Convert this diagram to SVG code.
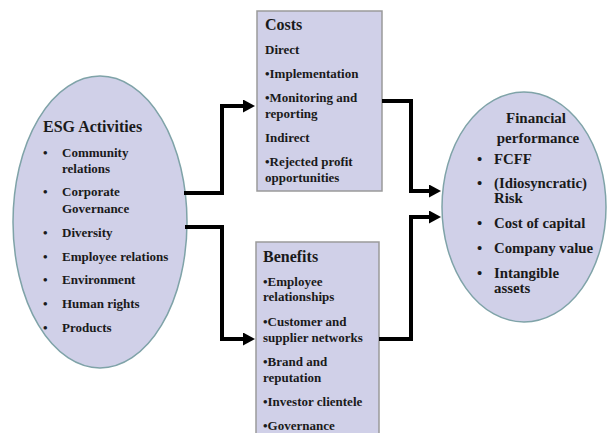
<svg xmlns="http://www.w3.org/2000/svg" width="610" height="433" viewBox="0 0 610 433">
<defs>
<marker id="arr" viewBox="0 0 12 13" refX="0" refY="6.5" markerWidth="12" markerHeight="13" markerUnits="userSpaceOnUse" orient="auto">
<path d="M0,0 L12,6.5 L0,13 Z" fill="#000"/>
</marker>
</defs>
<style>
.ell{fill:#d0d0e8;stroke:#7fa3a8;stroke-width:1.5}
.box{fill:#d0d0e8;stroke:#9a9a9a;stroke-width:1.5}
text{font-family:"Liberation Serif","Times New Roman",serif;font-weight:bold;fill:#1a1a1a}
.t16{font-size:16px}
.t15{font-size:14.8px}
.t13{font-size:13px}
.t14{font-size:15px}
.con{fill:none;stroke:#000;stroke-width:4;marker-end:url(#arr)}
</style>
<rect width="610" height="433" fill="#fff"/>
<g id="esg">
<ellipse class="ell" cx="100" cy="222" rx="87" ry="146"/>
<text class="t16" x="43" y="132">ESG Activities</text>
<g class="t13">
<text x="43" y="157">•</text><text x="62" y="157">Community</text>
<text x="62" y="173">relations</text>
<text x="43" y="196">•</text><text x="62" y="196">Corporate</text>
<text x="62" y="212.5">Governance</text>
<text x="43" y="236.5">•</text><text x="62" y="236.5">Diversity</text>
<text x="43" y="260.5">•</text><text x="62" y="260.5">Employee relations</text>
<text x="43" y="284">•</text><text x="62" y="284">Environment</text>
<text x="43" y="308">•</text><text x="62" y="308">Human rights</text>
<text x="43" y="331.5">•</text><text x="62" y="331.5">Products</text>
</g>
</g>
<g id="costs">
<rect class="box" x="257" y="11" width="125" height="180"/>
<text class="t16" x="265" y="30">Costs</text>
<g class="t13">
<text x="265" y="54">Direct</text>
<text x="265" y="78">•Implementation</text>
<text x="265" y="101.5">•Monitoring and</text>
<text x="265" y="117.5">reporting</text>
<text x="265" y="141.5">Indirect</text>
<text x="265" y="165.5">•Rejected profit</text>
<text x="265" y="181.5">opportunities</text>
</g>
</g>
<g id="benefits">
<rect class="box" x="256" y="242" width="123" height="200"/>
<text class="t16" x="263" y="261.5">Benefits</text>
<g class="t13">
<text x="263" y="285.5">•Employee</text>
<text x="263" y="300.5">relationships</text>
<text x="263" y="326">•Customer and</text>
<text x="263" y="341.5">supplier networks</text>
<text x="263" y="366">•Brand and</text>
<text x="263" y="381.5">reputation</text>
<text x="263" y="405.5">•Investor clientele</text>
<text x="263" y="429.5">•Governance</text>
</g>
</g>
<g id="financial">
<ellipse class="ell" cx="524" cy="207" rx="82" ry="115"/>
<text class="t14" x="536" y="123" text-anchor="middle">Financial</text>
<text class="t14" x="538" y="143" text-anchor="middle">performance</text>
<g class="t15">
<text x="477" y="164">•</text><text x="494" y="164">FCFF</text>
<text x="477" y="188">•</text><text x="494" y="188">(Idiosyncratic)</text>
<text x="494" y="203">Risk</text>
<text x="477" y="228">•</text><text x="494" y="228">Cost of capital</text>
<text x="477" y="253">•</text><text x="494" y="253">Company value</text>
<text x="477" y="277.5">•</text><text x="494" y="277.5">Intangible</text>
<text x="494" y="293">assets</text>
</g>
</g>
<g id="connectors">
<path class="con" d="M184,193 H222 V106 H243"/>
<path class="con" d="M185,227 H222 V339 H243"/>
<path class="con" d="M382,101 H411 V191 H429"/>
<path class="con" d="M379,339 H411 V217 H429"/>
</g>
</svg>
